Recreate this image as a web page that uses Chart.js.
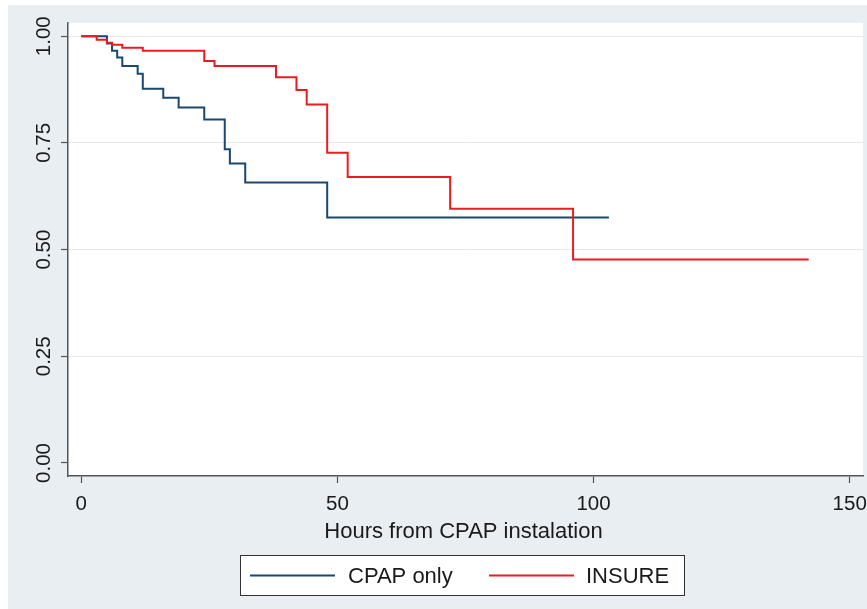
<!DOCTYPE html>
<html>
<head>
<meta charset="utf-8">
<script src="https://cdn.jsdelivr.net/npm/chart.js@4.4.1/dist/chart.umd.min.js"></script>
<style>
  html, body { margin: 0; padding: 0; background: #ffffff; }
  #wrap { width: 867px; height: 609px; position: relative; }
</style>
</head>
<body>
<div id="wrap"><canvas id="c" width="867" height="609"></canvas></div>
<script>
// ---- data ----
const seriesNames = ['CPAP only', 'INSURE'];
const cpapTimes = [0, 5, 6, 7, 8, 11, 12, 16, 19, 24, 28, 29, 32, 48, 103];
const cpapSurv  = [1.0, 0.983, 0.966, 0.95, 0.93, 0.912, 0.877, 0.856, 0.833, 0.805, 0.735, 0.702, 0.657, 0.575, 0.575];
const insureTimes = [0, 3, 5, 6, 8, 12, 24, 26, 38, 42, 44, 48, 52, 72, 96, 142];
const insureSurv  = [1.0, 0.992, 0.985, 0.98, 0.973, 0.966, 0.942, 0.93, 0.904, 0.874, 0.84, 0.727, 0.67, 0.596, 0.477, 0.477];
const xTicks = [0, 50, 100, 150];
const yTicks = [0, 0.25, 0.5, 0.75, 1.0];
const yTickLabels = ['0.00', '0.25', '0.50', '0.75', '1.00'];
const xTitle = 'Hours from CPAP instalation';

const FONT = '"Liberation Sans", Arial, Helvetica, sans-serif';
const BLUE = '#1a476f';
const RED = '#ea1c22';

function pts(t, s) { return t.map((v, i) => ({ x: v, y: s[i] })); }

const decor = {
  id: 'decor',
  beforeDraw(chart) {
    const ctx = chart.ctx, a = chart.chartArea;
    ctx.save();
    ctx.fillStyle = '#ffffff';
    ctx.fillRect(0, 0, chart.width, chart.height);
    ctx.fillStyle = '#e8eef2';
    ctx.fillRect(8, 5, chart.width - 8, chart.height - 5);
    ctx.fillStyle = '#ffffff';
    ctx.fillRect(a.left, a.top, a.right - a.left, a.bottom - a.top);
    ctx.restore();
  },
  afterDraw(chart) {
    const ctx = chart.ctx, a = chart.chartArea;
    const xs = chart.scales.x, ys = chart.scales.y;
    ctx.save();
    ctx.fillStyle = '#1a1a1a';
    // y tick labels (rotated)
    ctx.font = '20.5px ' + FONT;
    ctx.textAlign = 'center';
    ctx.textBaseline = 'alphabetic';
    yTicks.forEach((v, i) => {
      ctx.save();
      ctx.translate(49.5, ys.getPixelForValue(v));
      ctx.rotate(-Math.PI / 2);
      ctx.fillText(yTickLabels[i], 0, 0);
      ctx.restore();
    });
    // x tick labels
    xTicks.forEach(v => {
      ctx.fillText(String(v), xs.getPixelForValue(v), 509.5);
    });
    // x title
    ctx.font = '22px ' + FONT;
    ctx.fillText(xTitle, (a.left + a.right) / 2 - 2, 537.5);
    // legend
    const bx = 240.5, by = 555.5, bw = 444, bh = 40;
    ctx.fillStyle = '#ffffff';
    ctx.fillRect(bx, by, bw, bh);
    ctx.strokeStyle = '#333333';
    ctx.lineWidth = 1;
    ctx.strokeRect(bx, by, bw, bh);
    const items = [
      { x0: 250, x1: 335, tx: 348 },
      { x0: 489, x1: 574, tx: 586 }
    ];
    const ly = 575.5;
    chart.data.datasets.forEach((ds, i) => {
      const it = items[i];
      ctx.strokeStyle = ds.borderColor;
      ctx.lineWidth = 2;
      ctx.beginPath();
      ctx.moveTo(it.x0, ly);
      ctx.lineTo(it.x1, ly);
      ctx.stroke();
      ctx.fillStyle = '#1a1a1a';
      ctx.font = '22px ' + FONT;
      ctx.textAlign = 'left';
      ctx.textBaseline = 'middle';
      ctx.fillText(ds.label, it.tx, ly + 1);
    });
    ctx.restore();
  }
};

new Chart(document.getElementById('c'), {
  type: 'line',
  data: {
    datasets: [
      {
        label: seriesNames[0],
        data: pts(cpapTimes, cpapSurv),
        borderColor: BLUE,
        borderWidth: 2,
        stepped: 'before',
        pointRadius: 0,
        fill: false,
        order: 2
      },
      {
        label: seriesNames[1],
        data: pts(insureTimes, insureSurv),
        borderColor: RED,
        borderWidth: 2,
        stepped: 'before',
        pointRadius: 0,
        fill: false,
        order: 1
      }
    ]
  },
  options: {
    responsive: false,
    animation: false,
    events: [],
    layout: { padding: { top: 23, right: 4, left: 0, bottom: 0 } },
    plugins: { legend: { display: false }, tooltip: { enabled: false } },
    scales: {
      x: {
        type: 'linear',
        min: -2.6,
        max: 152.6,
        afterBuildTicks(s) { s.ticks = xTicks.map(v => ({ value: v })); },
        afterFit(s) { s.height = 133; },
        ticks: { display: false },
        grid: { drawOnChartArea: false, drawTicks: true, tickLength: 7, tickColor: '#555555', tickWidth: 1.2 },
        border: { display: true, color: '#555555', width: 1.5 }
      },
      y: {
        type: 'linear',
        min: -0.0305,
        max: 1.031,
        afterBuildTicks(s) { s.ticks = yTicks.map(v => ({ value: v })); },
        afterFit(s) { s.width = 68; },
        ticks: { display: false },
        grid: {
          drawOnChartArea: true,
          color: (c) => (c.tick && c.tick.value === 0) ? 'rgba(0,0,0,0)' : '#e4e9ed',
          lineWidth: 1,
          drawTicks: true, tickLength: 7, tickColor: '#555555', tickWidth: 1.2
        },
        border: { display: true, color: '#555555', width: 1.5 }
      }
    }
  },
  plugins: [decor]
});
</script>
</body>
</html>
